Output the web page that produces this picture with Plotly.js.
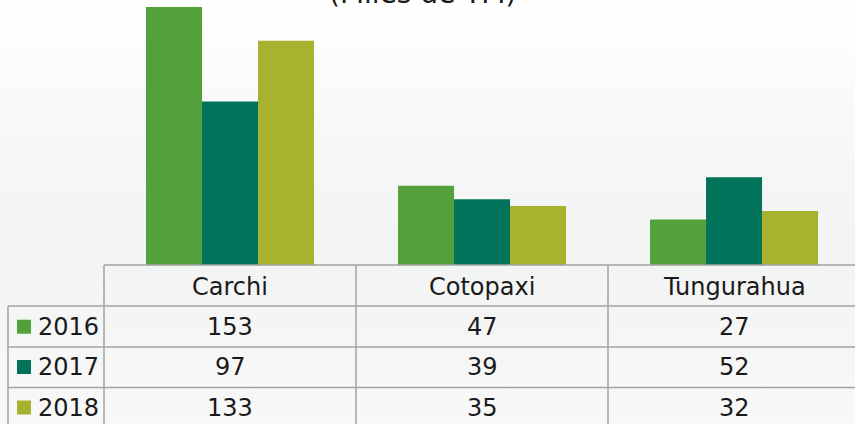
<!DOCTYPE html>
<html>
<head>
<meta charset="utf-8">
<script src="https://cdn.plot.ly/plotly-3.0.1.min.js"></script>
<style>
  html, body { margin:0; padding:0; width:855px; height:424px; overflow:hidden;
    background: linear-gradient(180deg, #ffffff 0%, #f7f8f8 30%, #f2f3f3 58%, #f8f8f8 100%); }
  #chart { width:855px; height:424px; }
</style>
</head>
<body>
<div id="chart"></div>
<script>
const categories = ['Carchi', 'Cotopaxi', 'Tungurahua'];
const years = ['2016', '2017', '2018'];
const values2016 = [153, 47, 27];
const values2017 = [97, 39, 52];
const values2018 = [133, 35, 32];
const colors = ['#54A03A', '#00735A', '#A7B22F'];
const subtitle = '(Miles de TM)';

const series = [values2016, values2017, values2018];
const xIdx = categories.map((c, i) => i);

const traces = series.map((vals, k) => ({
  type: 'bar', x: xIdx, y: vals, name: years[k],
  marker: { color: colors[k], line: { width: 0 } },
  hoverinfo: 'skip'
}));

const font = { family: 'DejaVu Sans, sans-serif', size: 24, color: '#1a1a1a' };
const H = 265; // plot height px
const py = p => (H - p) / H;          // pixel y -> paper y
const W = 751, L = 104;
const px = p => (p - L) / W;           // pixel x -> paper x
const lineStyle = { color: '#a3a3a3', width: 1.5 };

const shapes = [];
shapes.push({ type: 'line', xref: 'paper', yref: 'paper', x0: 0, x1: 1.01, y0: 0, y1: 0, line: lineStyle });
[306, 347, 387.5].forEach(p => shapes.push({ type: 'line', xref: 'paper', yref: 'paper', x0: px(8), x1: 1.01, y0: py(p), y1: py(p), line: lineStyle }));
shapes.push({ type: 'line', xref: 'paper', yref: 'paper', x0: 0, x1: 0, y0: 0, y1: py(440), line: lineStyle });
shapes.push({ type: 'line', xref: 'paper', yref: 'paper', x0: px(8), x1: px(8), y0: py(306), y1: py(440), line: lineStyle });
[356, 608].forEach(p => shapes.push({ type: 'line', xref: 'paper', yref: 'paper', x0: px(p), x1: px(p), y0: 0, y1: py(440), line: lineStyle }));

const rowCenters = [326.7, 367, 407.5];
rowCenters.forEach((c, k) => shapes.push({
  type: 'rect', xref: 'paper', yref: 'paper', x0: px(17), x1: px(31), y0: py(c - 7), y1: py(c + 7),
  fillcolor: colors[k], line: { width: 0 }
}));

const annotations = [];
annotations.push({ xref: 'paper', yref: 'paper', x: px(422), y: py(-7), text: subtitle, showarrow: false,
  xanchor: 'center', yanchor: 'middle', font: { family: 'DejaVu Sans, sans-serif', size: 28, color: '#1a1a1a' } });
categories.forEach((c, i) => annotations.push({ xref: 'x', yref: 'paper', x: i, y: py(286.7), text: c,
  showarrow: false, xanchor: 'center', yanchor: 'middle', font }));
series.forEach((vals, k) => {
  annotations.push({ xref: 'paper', yref: 'paper', x: px(36), y: py(rowCenters[k]), text: years[k],
    showarrow: false, xanchor: 'left', yanchor: 'middle', font });
  vals.forEach((v, i) => annotations.push({ xref: 'x', yref: 'paper', x: i, y: py(rowCenters[k]), text: String(v),
    showarrow: false, xanchor: 'center', yanchor: 'middle', font }));
});

const layout = {
  width: 855, height: 424,
  margin: { l: 104, r: 0, t: 0, b: 159, pad: 0 },
  paper_bgcolor: 'rgba(0,0,0,0)', plot_bgcolor: 'rgba(0,0,0,0)',
  barmode: 'group', bargap: 1/3, bargroupgap: 0,
  showlegend: false,
  xaxis: { range: [-0.5, 2.48], showticklabels: false, showgrid: false, zeroline: false, showline: false, ticks: '' },
  yaxis: { range: [0, 157.15], showticklabels: false, showgrid: false, zeroline: false, showline: false, ticks: '' },
  shapes, annotations
};

Plotly.newPlot('chart', traces, layout, { staticPlot: true, displayModeBar: false });
</script>
</body>
</html>
